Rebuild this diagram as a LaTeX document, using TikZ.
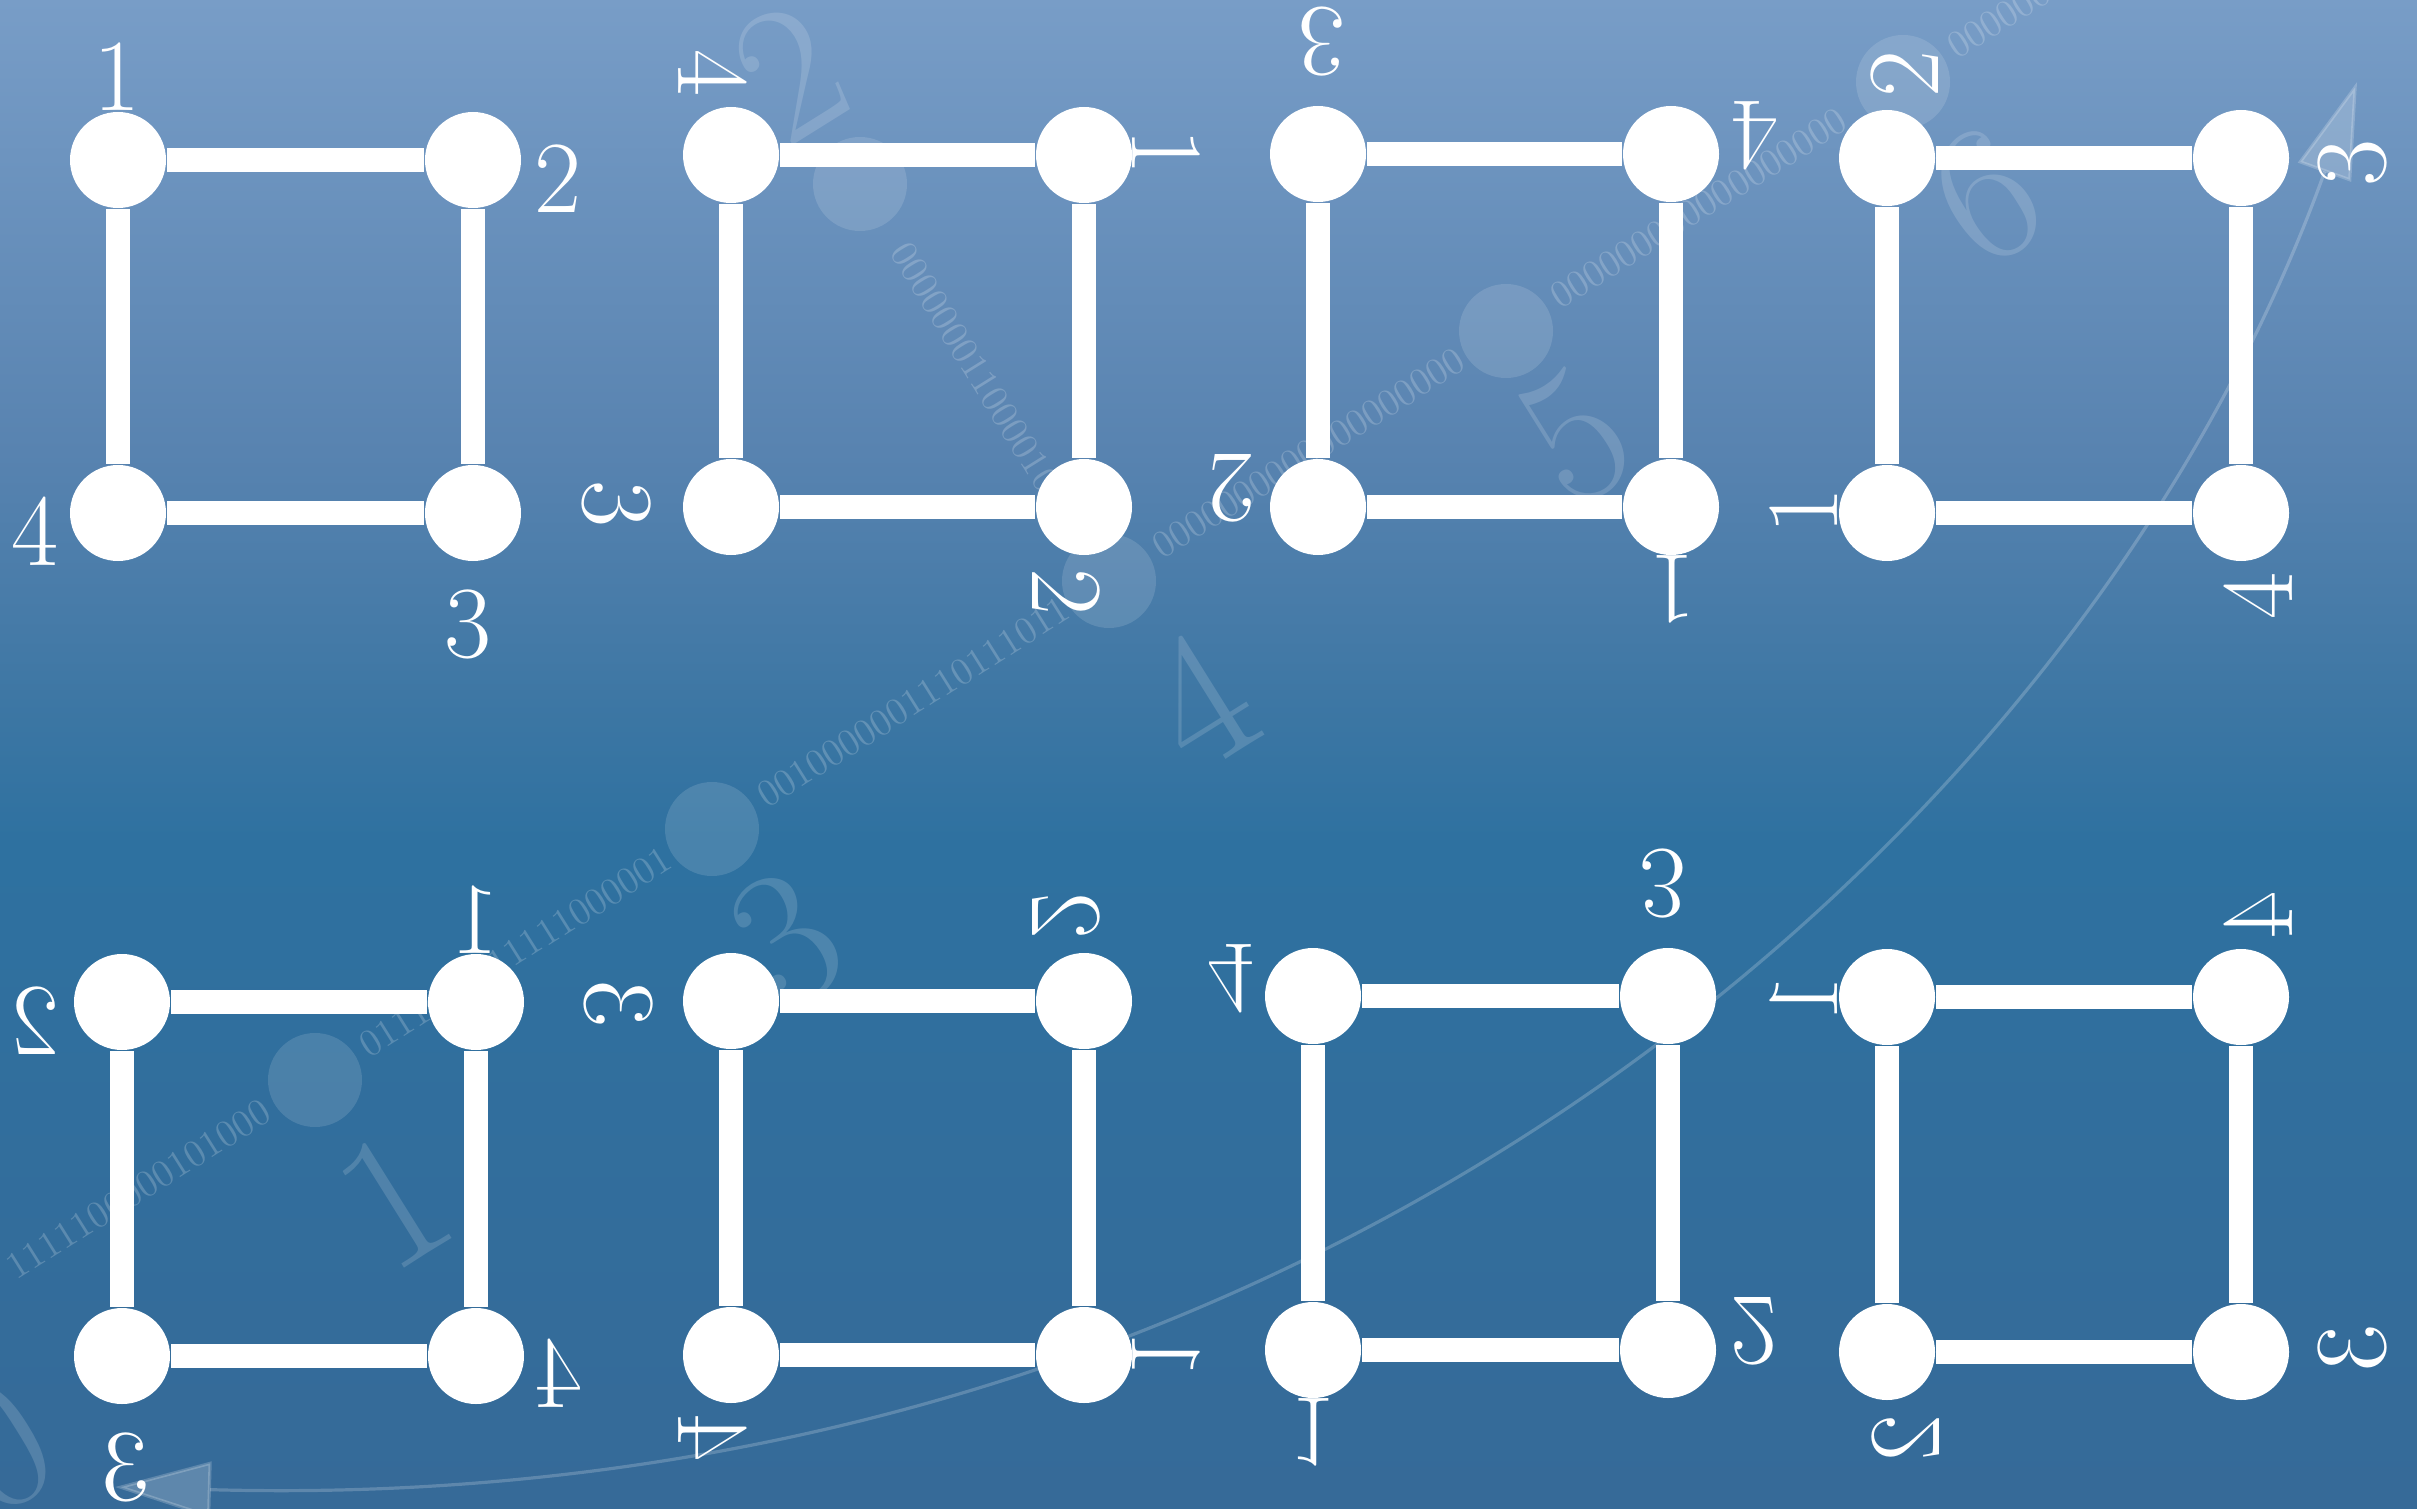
\documentclass[tikz,border=0pt]{standalone}
\usetikzlibrary{arrows.meta}
\definecolor{bgA}{RGB}{120,157,199}
\definecolor{bgB}{RGB}{88,131,176}
\definecolor{bgC}{RGB}{62,119,164}
\definecolor{bgD}{RGB}{46,113,160}
\definecolor{bgE}{RGB}{54,106,152}
\pgfdeclareverticalshading{bgshade}{100bp}{color(0bp)=(bgE); color(25bp)=(bgE); color(47bp)=(bgD); color(52bp)=(bgC); color(60bp)=(bgB); color(75bp)=(bgA); color(100bp)=(bgA)}
\tikzset{
  vtx/.style={circle, fill=white, inner sep=0pt, minimum size=24pt},
  sqedge/.style={draw=white, line width=6.1pt},
  lbl/.style={text=white, inner sep=0pt, font=\fontsize{25.6}{30}\selectfont},
  faintdot/.style={circle, fill=white, fill opacity=0.13, inner sep=0pt, minimum size=23.5pt},
  bigdigit/.style={text=white, text opacity=0.15, inner sep=0pt, font=\fontsize{48}{56}\selectfont, rotate=32},
  bin/.style={text=white, text opacity=0.2, inner sep=0pt, font=\fontsize{9.5}{11}\selectfont},
  spiral/.style={draw=white, opacity=0.2, line width=0.8pt},
}
\newcommand{\mySquare}[5]{%
  \node[vtx] (#1tl) at (#2) {};
  \node[vtx] (#1tr) at (#3) {};
  \node[vtx] (#1bl) at (#4) {};
  \node[vtx] (#1br) at (#5) {};
  \draw[sqedge] (#1tl) -- (#1tr);
  \draw[sqedge] (#1tr) -- (#1br);
  \draw[sqedge] (#1br) -- (#1bl);
  \draw[sqedge] (#1bl) -- (#1tl);
}
\begin{document}
\begin{tikzpicture}[x=0.25pt, y=-0.25pt]
\useasboundingbox (0,0) rectangle (2417,1508);
\shade[shading=bgshade] (0,0) rectangle (2417,1508);
\begin{scope}
\clip (0,0) rectangle (2417,1508);
% faint decorative dots
\node[faintdot] (d0) at (-82,1328) {};
\node[faintdot] (d1) at (315,1080) {};
\node[faintdot] (d3) at (712,829) {};
\node[faintdot] (d4) at (1109,581) {};
\node[faintdot] (d5) at (1506,331) {};
\node[faintdot] (d6) at (1903,82) {};
\node[faintdot] (d2) at (860,184) {};
% faint big digits
\node[bigdigit] (g0) at (-3,1445) {0};
\node[bigdigit] (g1) at (393,1200) {1};
\node[bigdigit] (g2) at (790,72) {2};
\node[bigdigit] (g3) at (786,940) {3};
\node[bigdigit] (g4) at (1199,701) {4};
\node[bigdigit] (g5) at (1575,437) {5};
\node[bigdigit] (g6) at (1986,197) {6};
% faint binary strings
\node[bin, rotate=32.2, anchor=east] (bA) at (268,1108) {1111100000101000};
\node[bin, rotate=32.2, anchor=west] (bB) at (362,1049) {0111011111111000001};
\node[bin, rotate=32.2, anchor=west] (bC) at (760,799) {0010000001110111011};
\node[bin, rotate=32.2, anchor=west] (bD) at (1155,550) {0000000000000000000};
\node[bin, rotate=32.2, anchor=west] (bE) at (1553,300) {000000000000000000};
\node[bin, rotate=32.2, anchor=west] (bF) at (1950,50) {0000000000};
\node[bin, rotate=-58] (bG) at (985,383) {00000001100001000};
% faint spiral arc with arrow heads
\coordinate (arcS) at (115,1487);
\coordinate (arcE) at (2357,82);
\draw[spiral, {Triangle[length=24pt,width=14pt]}-{Triangle[length=24pt,width=14pt]}] (arcS) .. controls (1300,1520) and (2080,850) .. (arcE);
\end{scope}
% squares
\mySquare{sa}{118,160}{473,160}{118,513}{473,513}
\mySquare{sb}{731,155}{1084,155}{731,507}{1084,507}
\mySquare{sc}{1318,154}{1671,154}{1318,507}{1671,507}
\mySquare{sd}{1887,158}{2241,158}{1887,513}{2241,513}
\mySquare{se}{122,1002}{476,1002}{122,1356}{476,1356}
\mySquare{sf}{731,1001}{1084,1001}{731,1355}{1084,1355}
\mySquare{sg}{1313,996}{1668,996}{1313,1350}{1668,1350}
\mySquare{sh}{1887,997}{2241,997}{1887,1352}{2241,1352}
% labels: identity
\node[lbl] (la1) at (117,77) {1};
\node[lbl] (la2) at (558,179) {2};
\node[lbl] (la3) at (468,624) {3};
\node[lbl] (la4) at (34.5,531) {4};
% rotation 90 clockwise
\node[lbl, rotate=-90] (lb4) at (713,73) {4};
\node[lbl, rotate=-90] (lb1) at (1166,152) {1};
\node[lbl, rotate=-90] (lb3) at (617,504) {3};
\node[lbl, rotate=-90] (lb2) at (1066,592) {2};
% rotation 180
\node[lbl, rotate=180] (lc3) at (1322,42) {3};
\node[lbl, rotate=180] (lc4) at (1755,136) {4};
\node[lbl, rotate=180] (lc2) at (1232,488) {2};
\node[lbl, rotate=180] (lc1) at (1673,589) {1};
% rotation 270 clockwise
\node[lbl, rotate=90] (ld2) at (1905,74) {2};
\node[lbl, rotate=90] (ld3) at (2352,163) {3};
\node[lbl, rotate=90] (ld1) at (1804,511) {1};
\node[lbl, rotate=90] (ld4) at (2258,596) {4};
% mirror in vertical axis
\node[lbl, xscale=-1] (le1) at (476,920) {1};
\node[lbl, xscale=-1] (le2) at (36,1021) {2};
\node[lbl, xscale=-1] (le4) at (559,1373) {4};
\node[lbl, xscale=-1] (le3) at (126,1467) {3};
% mirror in diagonal
\node[lbl, cm={0,1,1,0,(0,0)}] (lf2) at (1066,916) {2};
\node[lbl, cm={0,1,1,0,(0,0)}] (lf3) at (619,1004) {3};
\node[lbl, cm={0,1,1,0,(0,0)}] (lf1) at (1166,1355) {1};
\node[lbl, cm={0,1,1,0,(0,0)}] (lf4) at (713,1438) {4};
% mirror in horizontal axis
\node[lbl, yscale=-1] (lg4) at (1231,979) {4};
\node[lbl, yscale=-1] (lg3) at (1663,884) {3};
\node[lbl, yscale=-1] (lg2) at (1754,1331) {2};
\node[lbl, yscale=-1] (lg1) at (1313,1432) {1};
% mirror in anti-diagonal
\node[lbl, cm={0,-1,-1,0,(0,0)}] (lh1) at (1804,998) {1};
\node[lbl, cm={0,-1,-1,0,(0,0)}] (lh4) at (2258,915) {4};
\node[lbl, cm={0,-1,-1,0,(0,0)}] (lh3) at (2352,1348) {3};
\node[lbl, cm={0,-1,-1,0,(0,0)}] (lh2) at (1906,1438) {2};
\end{tikzpicture}
\end{document}
